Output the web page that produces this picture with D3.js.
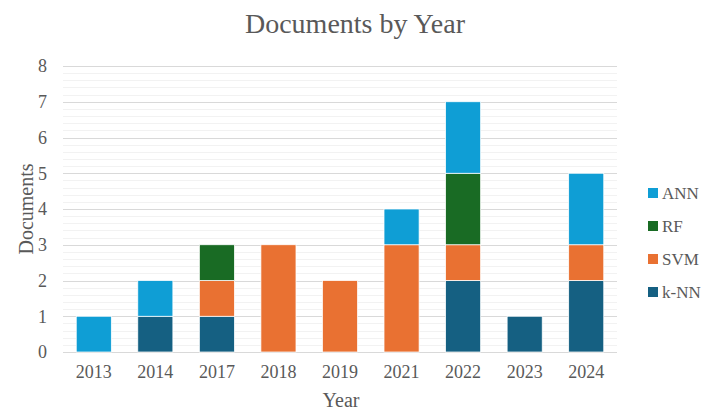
<!DOCTYPE html>
<html>
<head>
<meta charset="utf-8">
<script src="https://cdn.jsdelivr.net/npm/d3@7"></script>
<style>
  body { margin: 0; background: #fff; }
</style>
</head>
<body>
<svg id="chart" width="705" height="412"></svg>
<script>
// data
const years = ["2013", "2014", "2017", "2018", "2019", "2021", "2022", "2023", "2024"];
const series = ["k-NN", "SVM", "RF", "ANN"];
const knn = [0, 1, 1, 0, 0, 0, 2, 1, 2];
const svm = [0, 0, 1, 3, 2, 3, 1, 0, 1];
const rf  = [0, 0, 1, 0, 0, 0, 2, 0, 0];
const ann = [1, 1, 0, 0, 0, 1, 2, 0, 2];
const yTicks = [0, 1, 2, 3, 4, 5, 6, 7, 8];

const colors = { "k-NN": "#156082", "SVM": "#E97132", "RF": "#196B24", "ANN": "#0F9ED5" };
const serif = "'Liberation Serif', serif";

const rows = years.map((y, i) => ({ year: y, "k-NN": knn[i], "SVM": svm[i], "RF": rf[i], "ANN": ann[i] }));

const margin = { left: 63, right: 88, top: 66, bottom: 60 };
const width = 705 - margin.left - margin.right;
const height = 412 - margin.top - margin.bottom;

const svg = d3.select("#chart");
const g = svg.append("g").attr("transform", "translate(" + margin.left + "," + margin.top + ")");

const x = d3.scaleBand().domain(years).range([0, width]).paddingInner(0.43).paddingOuter(0.215);
const y = d3.scaleLinear().domain([0, 8]).range([height, 0]);

// minor gridlines
g.append("g").selectAll("line")
  .data(d3.range(0, 8.001, 0.2).filter(v => Math.abs(v - Math.round(v)) > 0.01))
  .enter().append("line")
  .attr("x1", 0).attr("x2", width)
  .attr("y1", d => Math.round(y(d)) + 0.5).attr("y2", d => Math.round(y(d)) + 0.5)
  .attr("stroke", "#f2f2f2").attr("stroke-width", 1);

// major gridlines
g.append("g").selectAll("line")
  .data(yTicks)
  .enter().append("line")
  .attr("x1", 0).attr("x2", width)
  .attr("y1", d => Math.round(y(d)) + 0.5).attr("y2", d => Math.round(y(d)) + 0.5)
  .attr("stroke", "#d9d9d9").attr("stroke-width", 1);

// bars
const stacked = d3.stack().keys(series)(rows);
g.append("g").selectAll("g")
  .data(stacked)
  .enter().append("g")
  .attr("fill", d => colors[d.key])
  .selectAll("rect")
  .data(d => d.filter(p => p[1] > p[0]))
  .enter().append("rect")
  .attr("x", d => x(d.data.year))
  .attr("y", d => y(d[1]))
  .attr("width", x.bandwidth())
  .attr("height", d => y(d[0]) - y(d[1]))
  .attr("stroke", "#fff").attr("stroke-width", 0.75);

// axes
const yAxis = g.append("g").call(d3.axisLeft(y).tickValues(yTicks).tickSize(0).tickPadding(16));
yAxis.select(".domain").remove();

const xAxis = g.append("g").attr("transform", "translate(0," + height + ")")
  .call(d3.axisBottom(x).tickSize(0).tickPadding(13));
xAxis.select(".domain").remove();

g.selectAll(".tick text").style("font-size", "18px");

// titles
svg.append("text").attr("x", 355).attr("y", 33).attr("text-anchor", "middle")
  .style("font-size", "28px").text("Documents by Year");
svg.append("text").attr("x", 341).attr("y", 407).attr("text-anchor", "middle")
  .style("font-size", "20px").text("Year");
svg.append("text").attr("transform", "translate(33,209) rotate(-90)")
  .attr("text-anchor", "middle").style("font-size", "20px").text("Documents");

// legend
const legend = svg.append("g").attr("transform", "translate(648,193)");
const items = legend.selectAll("g").data(series.slice().reverse()).enter().append("g")
  .attr("transform", (d, i) => "translate(0," + i * 33 + ")");
items.append("rect").attr("x", 0).attr("y", -5).attr("width", 10).attr("height", 10)
  .attr("fill", d => colors[d]);
items.append("text").attr("x", 14).attr("y", 6).style("font-size", "17px").text(d => d);

svg.selectAll("text").style("font-family", serif).style("fill", "#595959");
</script>
</body>
</html>
